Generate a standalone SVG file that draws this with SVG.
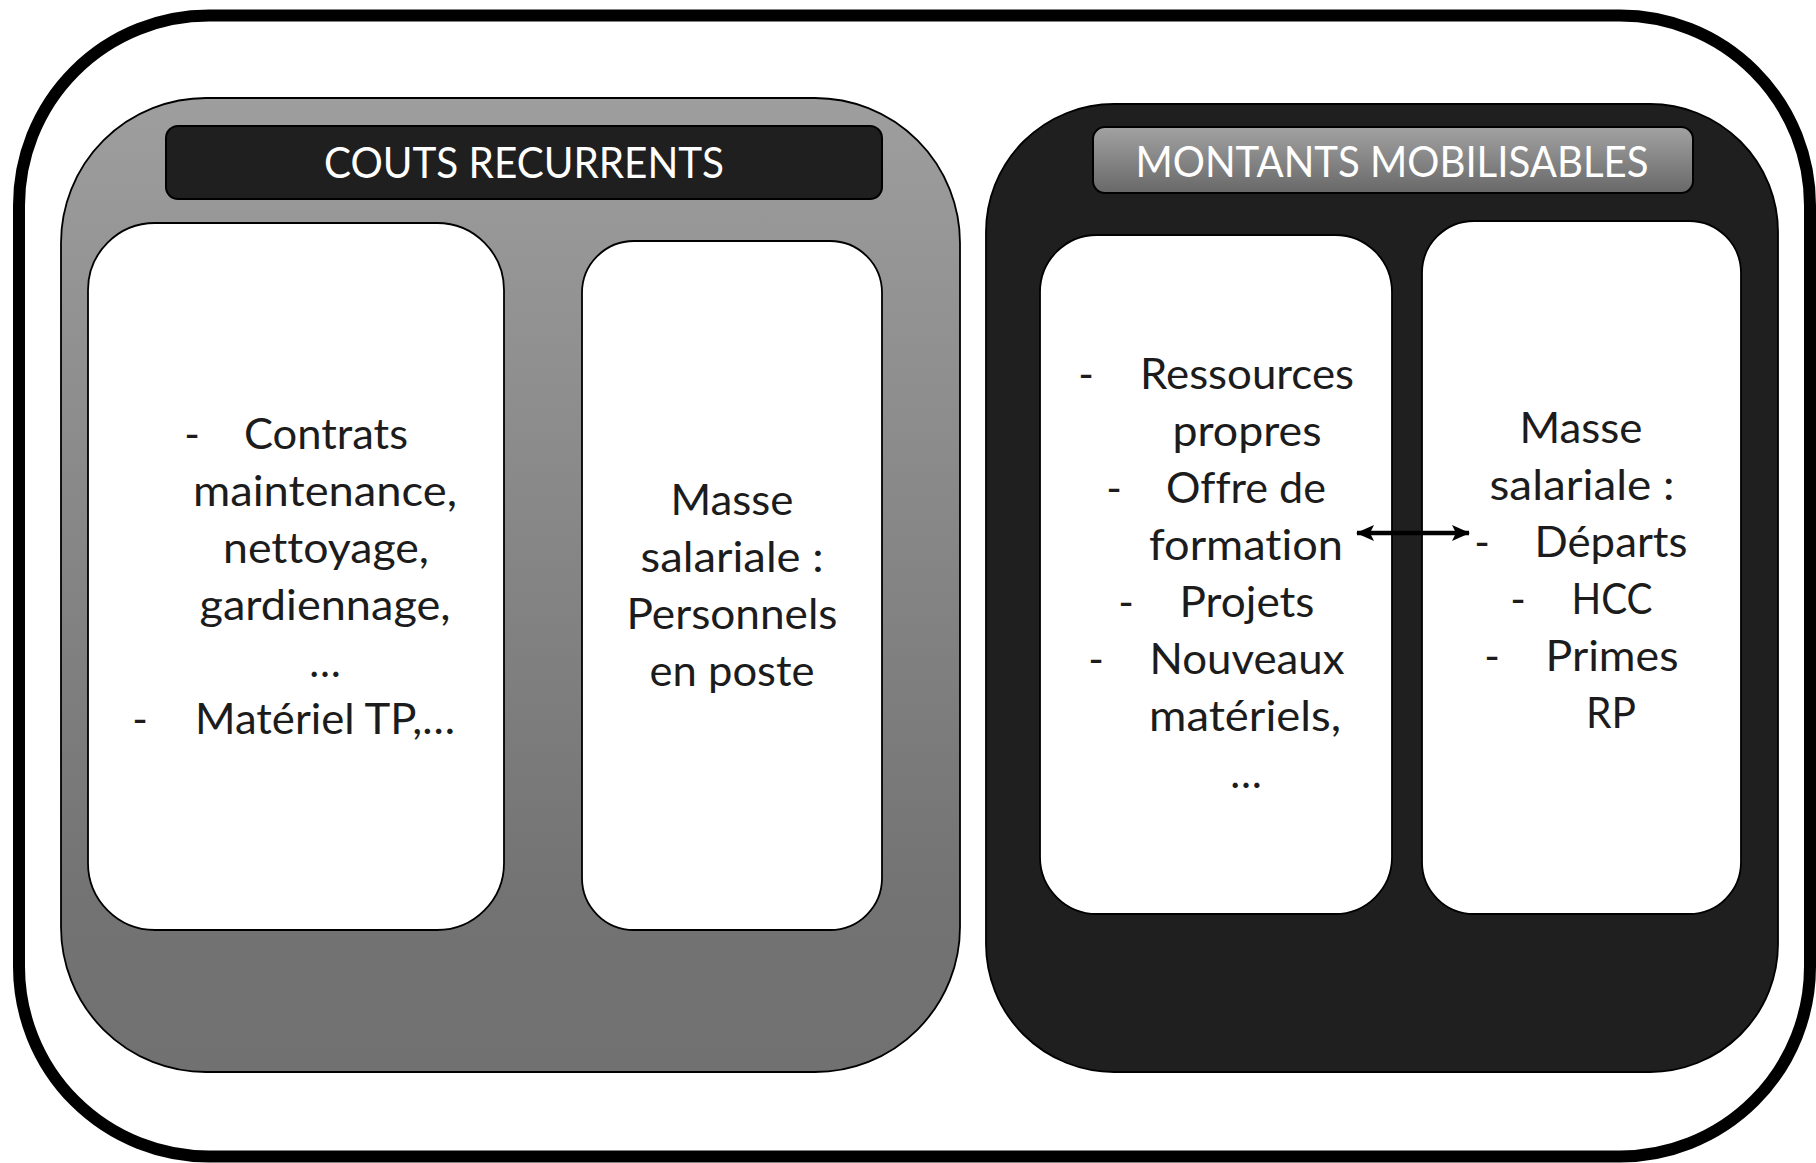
<svg xmlns="http://www.w3.org/2000/svg" width="1816" height="1163" viewBox="0 0 1816 1163">
  <defs>
    <linearGradient id="gPanel" x1="0" y1="0" x2="0" y2="1">
      <stop offset="0" stop-color="#9e9e9e"/>
      <stop offset="0.82" stop-color="#737373"/>
      <stop offset="1" stop-color="#717171"/>
    </linearGradient>
    <linearGradient id="gHead" x1="0" y1="0" x2="0" y2="1">
      <stop offset="0" stop-color="#a2a2a2"/>
      <stop offset="1" stop-color="#686868"/>
    </linearGradient>
    <marker id="ah" viewBox="0 0 18 16" refX="17" refY="8" markerWidth="18" markerHeight="16" markerUnits="userSpaceOnUse" orient="auto-start-reverse">
      <path d="M0,0 L18,8 L0,16 L4,8 Z" fill="#000"/>
    </marker>
    <style>
      .t { font-family: Lato, "Open Sans", "Liberation Sans", sans-serif; font-size: 42px; fill: #1c1c1c; text-anchor: middle; font-variant-ligatures: none; font-feature-settings: "liga" 0, "clig" 0, "dlig" 0; }
      .h { font-family: Lato, "Open Sans", "Liberation Sans", sans-serif; font-size: 42px; fill: #ffffff; text-anchor: middle; font-variant-ligatures: none; font-feature-settings: "liga" 0, "clig" 0; }
      .box { fill: #ffffff; stroke: #000; stroke-width: 1.8; }
    </style>
  </defs>

  <rect width="1816" height="1163" fill="#ffffff"/>

  <g id="frame">
    <rect x="19" y="15.5" width="1791" height="1141" rx="190" ry="190" fill="#ffffff" stroke="#000" stroke-width="12"/>
  </g>

  <g id="couts-recurrents">
    <rect x="61" y="98" width="899" height="974" rx="145" ry="145" fill="url(#gPanel)" stroke="#000" stroke-width="1.8"/>
    <rect x="166" y="126" width="716" height="73" rx="12" ry="12" fill="#1f1f1f" stroke="#000" stroke-width="2"/>
    <text class="h" x="524" y="178" textLength="400" lengthAdjust="spacingAndGlyphs">COUTS RECURRENTS</text>
  </g>

  <g id="contrats">
    <rect class="box" x="88" y="223" width="416" height="707" rx="67" ry="67"/>
    <text class="t" x="192" y="449">-</text>
    <text class="t" x="326" y="449" textLength="164" lengthAdjust="spacingAndGlyphs">Contrats</text>
    <text class="t" x="325" y="506" textLength="264" lengthAdjust="spacingAndGlyphs">maintenance,</text>
    <text class="t" x="326" y="563" textLength="206" lengthAdjust="spacingAndGlyphs">nettoyage,</text>
    <text class="t" x="325" y="620" textLength="251" lengthAdjust="spacingAndGlyphs">gardiennage,</text>
    <text class="t" x="325" y="677">…</text>
    <text class="t" x="140" y="734">-</text>
    <text class="t" x="325" y="734" textLength="260" lengthAdjust="spacingAndGlyphs">Matériel TP,…</text>
  </g>

  <g id="masse-salariale-poste">
    <rect class="box" x="582" y="241" width="300" height="689" rx="52" ry="52"/>
    <text class="t" x="732" y="515" textLength="123" lengthAdjust="spacingAndGlyphs">Masse</text>
    <text class="t" x="732" y="572" textLength="183" lengthAdjust="spacingAndGlyphs">salariale :</text>
    <text class="t" x="732" y="629" textLength="211" lengthAdjust="spacingAndGlyphs">Personnels</text>
    <text class="t" x="732" y="686" textLength="165" lengthAdjust="spacingAndGlyphs">en poste</text>
  </g>

  <g id="montants-mobilisables">
    <rect x="986" y="104" width="792" height="968" rx="128" ry="128" fill="#1f1f1f" stroke="#000" stroke-width="1.8"/>
    <rect x="1093" y="127" width="600" height="66" rx="12" ry="12" fill="url(#gHead)" stroke="#000" stroke-width="2"/>
    <text class="h" x="1392" y="177" textLength="513" lengthAdjust="spacingAndGlyphs">MONTANTS MOBILISABLES</text>
  </g>

  <g id="ressources">
    <rect class="box" x="1040" y="235" width="352" height="679" rx="57" ry="57"/>
    <text class="t" x="1086" y="389">-</text>
    <text class="t" x="1247" y="389" textLength="214" lengthAdjust="spacingAndGlyphs">Ressources</text>
    <text class="t" x="1247" y="446" textLength="149" lengthAdjust="spacingAndGlyphs">propres</text>
    <text class="t" x="1114" y="503">-</text>
    <text class="t" x="1246" y="503" textLength="160" lengthAdjust="spacingAndGlyphs">Offre de</text>
    <text class="t" x="1246" y="560" textLength="194" lengthAdjust="spacingAndGlyphs">formation</text>
    <text class="t" x="1126" y="617">-</text>
    <text class="t" x="1247" y="617" textLength="135" lengthAdjust="spacingAndGlyphs">Projets</text>
    <text class="t" x="1096" y="674">-</text>
    <text class="t" x="1247" y="674" textLength="195" lengthAdjust="spacingAndGlyphs">Nouveaux</text>
    <text class="t" x="1245" y="731" textLength="192" lengthAdjust="spacingAndGlyphs">matériels,</text>
    <text class="t" x="1246" y="788">…</text>
  </g>

  <g id="masse-salariale-mobilisable">
    <rect class="box" x="1422" y="221" width="319" height="693" rx="52" ry="52"/>
    <text class="t" x="1581" y="443" textLength="123" lengthAdjust="spacingAndGlyphs">Masse</text>
    <text class="t" x="1582" y="500" textLength="185" lengthAdjust="spacingAndGlyphs">salariale :</text>
    <text class="t" x="1482" y="557">-</text>
    <text class="t" x="1611" y="557" textLength="153" lengthAdjust="spacingAndGlyphs">Départs</text>
    <text class="t" x="1518" y="614">-</text>
    <text class="t" x="1612" y="614" textLength="81" lengthAdjust="spacingAndGlyphs">HCC</text>
    <text class="t" x="1492" y="671">-</text>
    <text class="t" x="1612" y="671" textLength="133" lengthAdjust="spacingAndGlyphs">Primes</text>
    <text class="t" x="1611" y="728" textLength="50" lengthAdjust="spacingAndGlyphs">RP</text>
  </g>

  <g id="connectors">
    <line x1="1357" y1="533" x2="1469" y2="533" stroke="#000" stroke-width="4.5" marker-start="url(#ah)" marker-end="url(#ah)"/>
  </g>
</svg>
